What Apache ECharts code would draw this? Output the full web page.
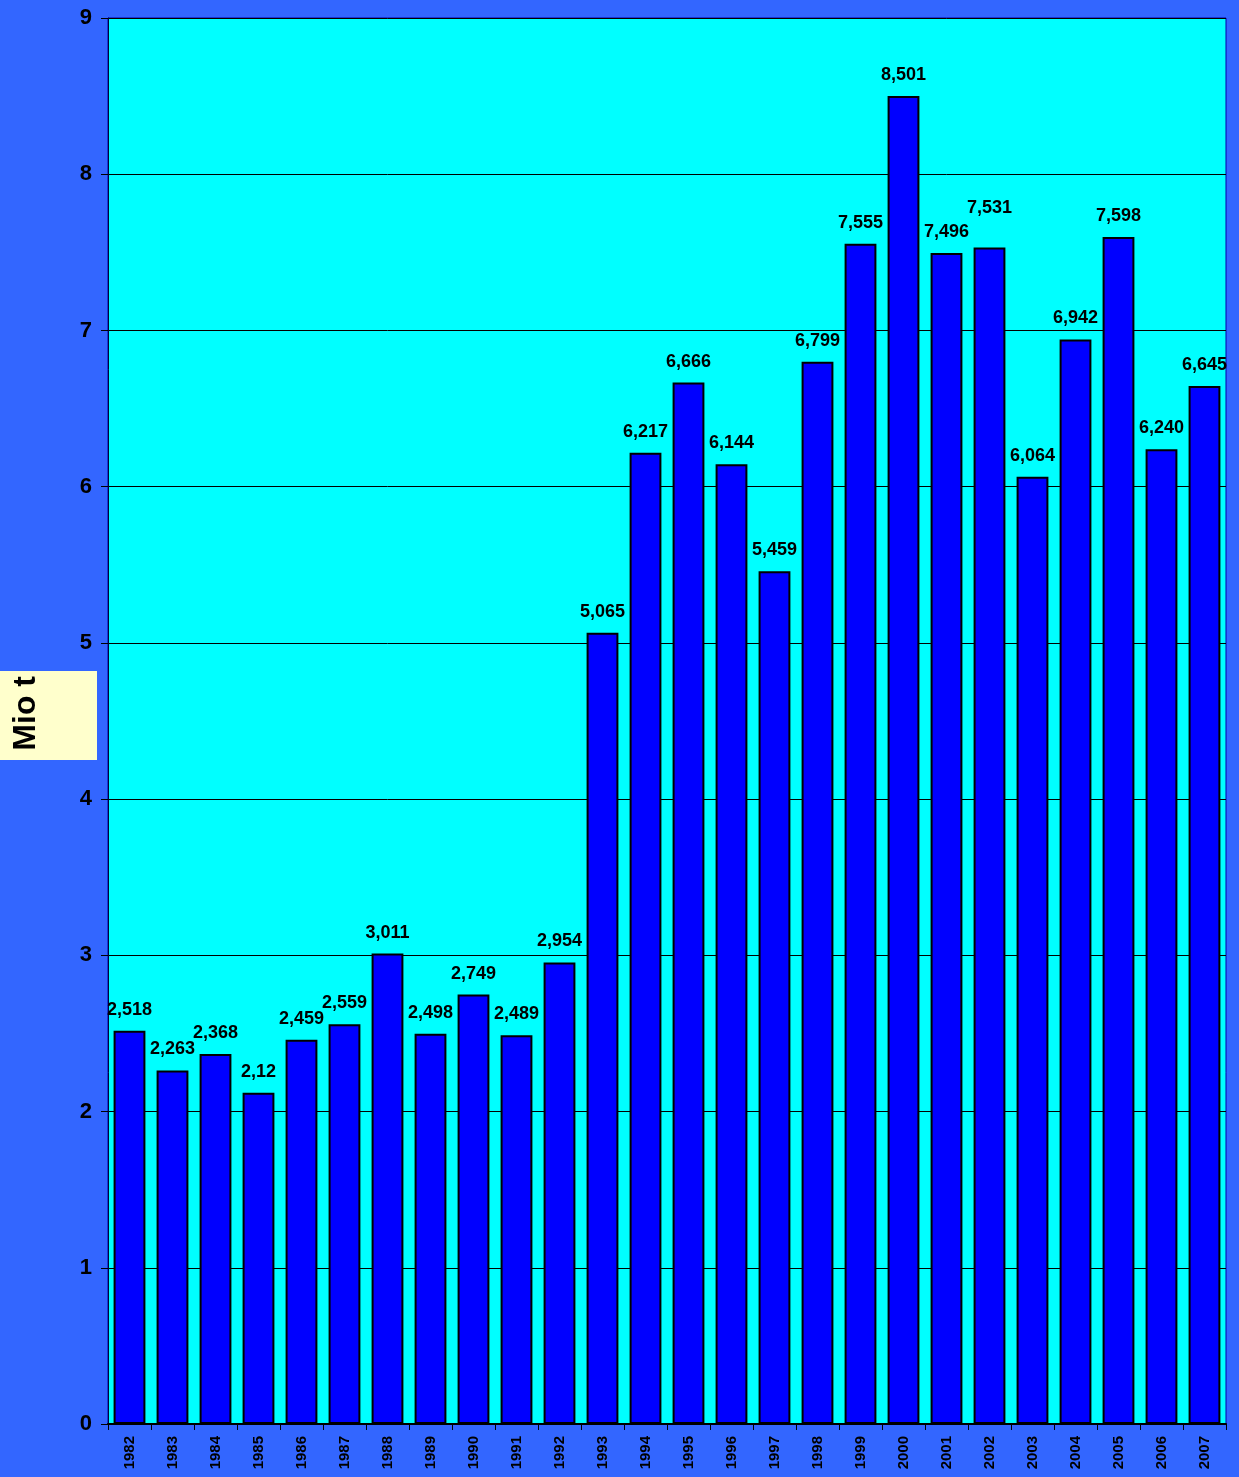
<!DOCTYPE html>
<html><head><meta charset="utf-8">
<script src="https://cdn.jsdelivr.net/npm/echarts@6/dist/echarts.min.js"></script>
<style>html,body{margin:0;padding:0;background:#3366FF;}#c{width:1239px;height:1477px;}</style>
</head><body><div id="c"></div>
<script>
const years = ['1982','1983','1984','1985','1986','1987','1988','1989','1990','1991','1992','1993','1994','1995','1996','1997','1998','1999','2000','2001','2002','2003','2004','2005','2006','2007'];
const values = [2.518,2.263,2.368,2.12,2.459,2.559,3.011,2.498,2.749,2.489,2.954,5.065,6.217,6.666,6.144,5.459,6.799,7.555,8.501,7.496,7.531,6.064,6.942,7.598,6.240,6.645];
const valueLabels = ['2,518','2,263','2,368','2,12','2,459','2,559','3,011','2,498','2,749','2,489','2,954','5,065','6,217','6,666','6,144','5,459','6,799','7,555','8,501','7,496','7,531','6,064','6,942','7,598','6,240','6,645'];
const yAxisName = 'Mio t';
const raisedLabelYear = '2002';

const chart = echarts.init(document.getElementById('c'));
chart.setOption({
  backgroundColor: '#3366FF',
  animation: false,
  textStyle: { fontFamily: 'Liberation Sans, Arial, sans-serif' },
  grid: { left: 108, right: 13, top: 18, bottom: 53, show: true, backgroundColor: '#00FFFF', borderColor: '#0000AA', borderWidth: 1 },
  xAxis: {
    type: 'category', data: years,
    axisLine: { lineStyle: { color: '#000000', width: 2 } },
    axisTick: { show: true, alignWithLabel: false, length: 6, lineStyle: { color: '#000000' } },
    axisLabel: { rotate: 90, color: '#000', fontWeight: 'bold', fontSize: 15, margin: 12 }
  },
  yAxis: {
    type: 'value', min: 0, max: 9, interval: 1,
    axisLine: { show: true, lineStyle: { color: '#000040', width: 1 } },
    axisTick: { show: true, length: 7, lineStyle: { color: '#000000' } },
    axisLabel: { color: '#000', fontWeight: 'bold', fontSize: 22, margin: 16 },
    splitLine: { show: true, lineStyle: { color: '#000000', width: 1 } }
  },
  graphic: [
    { type: 'rect', left: 0, top: 671, shape: { width: 97, height: 89 }, style: { fill: '#FFFFCC' }, z: 10 },
    { type: 'text', left: 10, top: 676, rotation: Math.PI / 2, style: { text: yAxisName, fill: '#000', font: 'bold 32px Liberation Sans, Arial, sans-serif' }, z: 11 }
  ],
  series: [{
    type: 'bar',
    data: values.map((v, i) => years[i] === raisedLabelYear ? { value: v, label: { offset: [0, -18] } } : v),
    barCategoryGap: '26%',
    itemStyle: { color: '#0000FF', borderColor: '#000000', borderWidth: 2 },
    label: {
      show: true, position: 'top', distance: 12, color: '#000', fontWeight: 'bold', fontSize: 18,
      formatter: p => valueLabels[p.dataIndex]
    }
  }]
});
</script></body></html>
